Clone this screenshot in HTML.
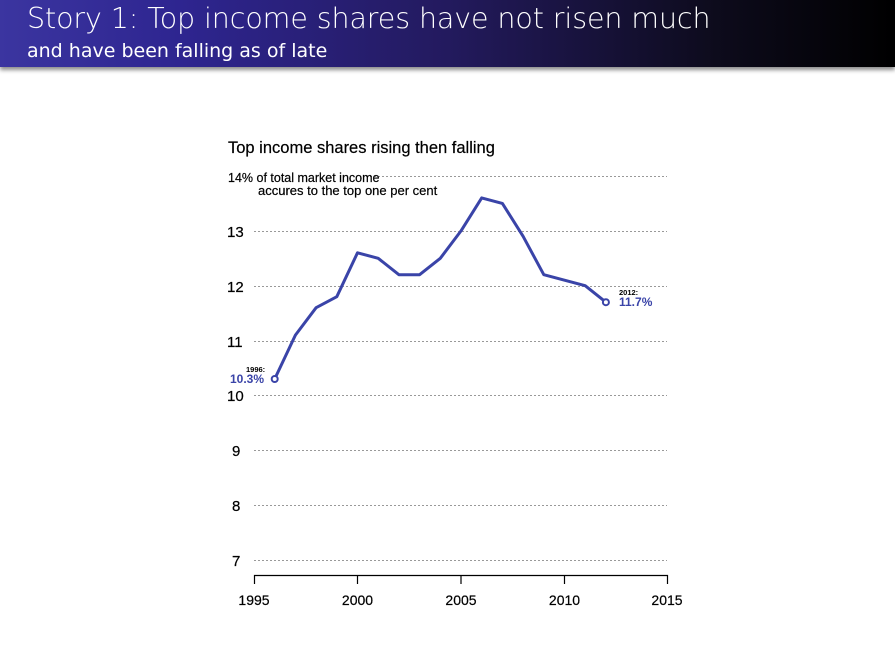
<!DOCTYPE html>
<html><head><style>
body{margin:0;width:895px;height:656px;background:#fff;overflow:hidden;font-family:"DejaVu Sans","Liberation Sans",sans-serif;}
.hdr{position:absolute;left:0;top:0;width:895px;height:67px;background:linear-gradient(90deg,#3b35a0 0%,#2e2590 20%,#231a5e 50%,#0d0b1c 80%,#000 100%);box-shadow:0 3px 4px rgba(0,0,0,0.45);}
.t1{position:absolute;left:27px;top:2px;color:#fff;font-size:28.5px;font-weight:300;letter-spacing:-0.1px;}
.t2{position:absolute;left:27px;top:40px;color:#fff;font-size:19px;}
svg{position:absolute;left:0;top:0;}
</style></head><body>
<div class="hdr"><div class="t1">Story 1: Top income shares have not risen much</div><div class="t2">and have been falling as of late</div></div>
<svg width="895" height="656" font-family="Liberation Sans, sans-serif">
<text x="228" y="153" font-size="16.5" stroke="#000" stroke-width="0.2">Top income shares rising then falling</text>
<g stroke="#999" stroke-dasharray="2,2" stroke-width="1">
<line x1="254" x2="667" y1="176.5" y2="176.5"/>
<line x1="254" x2="667" y1="231.5" y2="231.5"/>
<line x1="254" x2="667" y1="286.5" y2="286.5"/>
<line x1="254" x2="667" y1="341.5" y2="341.5"/>
<line x1="254" x2="667" y1="395.5" y2="395.5"/>
<line x1="254" x2="667" y1="450.5" y2="450.5"/>
<line x1="254" x2="667" y1="505.5" y2="505.5"/>
<line x1="254" x2="667" y1="560.5" y2="560.5"/>
</g>
<rect x="228" y="168" width="136" height="30" fill="#fff"/>
<g font-size="13" fill="#000" stroke="#000" stroke-width="0.2">
<text x="228" y="182" font-size="12.5">14% of total market income</text>
<text x="258" y="195" font-size="13">accures to the top one per cent</text>
<text x="227" y="237" font-size="15">13</text>
<text x="227" y="292" font-size="15">12</text>
<text x="227" y="347" font-size="15">11</text>
<text x="227" y="401" font-size="15">10</text>
<text x="232" y="456" font-size="15">9</text>
<text x="232" y="511" font-size="15">8</text>
<text x="232" y="566" font-size="15">7</text>
</g>
<g stroke="#000" stroke-width="1.2" fill="none">
<path d="M254.5 584V575.5H667.5V584M357.5 575.5V584M461 575.5V584M564.5 575.5V584"/>
</g>
<g font-size="14" text-anchor="middle" stroke="#000" stroke-width="0.2">
<text x="254" y="605">1995</text><text x="357.5" y="605">2000</text><text x="461" y="605">2005</text><text x="564.5" y="605">2010</text><text x="667" y="605">2015</text>
</g>
<polyline fill="none" stroke="#3a44a8" stroke-width="3" stroke-linejoin="round" points="274.7,379 295.4,335.1 316.1,307.7 336.8,296.7 357.5,252.8 378.2,258.3 398.9,274.7 419.6,274.7 440.3,258.3 461,230.9 481.7,197.9 502.4,203.4 523.1,236.3 543.8,274.7 564.5,280.2 585.2,285.7 605.9,302.2"/>
<circle cx="274.7" cy="379" r="3" fill="#fff" stroke="#3a44a8" stroke-width="2"/>
<circle cx="605.9" cy="302.2" r="3" fill="#fff" stroke="#3a44a8" stroke-width="2"/>
<text x="246" y="372" font-size="7.5" font-weight="bold">1996:</text>
<text x="230" y="383" font-size="12" font-weight="bold" fill="#3a44a8">10.3%</text>
<text x="619" y="295" font-size="7.5" font-weight="bold">2012:</text>
<text x="619" y="306" font-size="12" font-weight="bold" fill="#3a44a8">11.7%</text>
</svg>
</body></html>
